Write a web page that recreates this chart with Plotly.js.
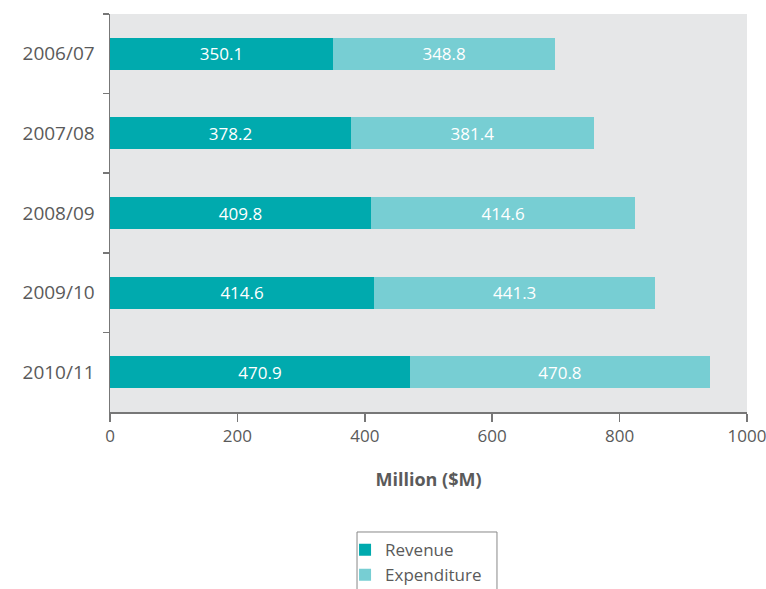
<!DOCTYPE html>
<html>
<head>
<meta charset="utf-8">
<script src="https://cdn.plot.ly/plotly-3.0.1.min.js"></script>
<style>html,body{margin:0;padding:0;background:#fff;}#chart{width:766px;height:589px;}</style>
</head>
<body>
<div id="chart"></div>
<script>
const years = ["2006/07", "2007/08", "2008/09", "2009/10", "2010/11"];
const revenue = [350.1, 378.2, 409.8, 414.6, 470.9];
const expenditure = [348.8, 381.4, 414.6, 441.3, 470.8];
const xTicks = [0, 200, 400, 600, 800, 1000];

const fontFam = "'Open Sans', 'Noto Sans', sans-serif";
const common = {
  type: "bar", orientation: "h", y: years, width: 0.4,
  textposition: "inside", insidetextanchor: "middle",
  textfont: {color: "#ffffff", size: 17, family: fontFam},
  hoverinfo: "x+name"
};
const data = [
  Object.assign({}, common, {name: "Revenue", x: revenue, text: revenue.map(v => v.toFixed(1)), marker: {color: "#00aaae"}}),
  Object.assign({}, common, {name: "Expenditure", x: expenditure, text: expenditure.map(v => v.toFixed(1)), marker: {color: "#77ced3"}})
];
const layout = {
  width: 766, height: 589,
  margin: {l: 110, r: 19, t: 14, b: 177, autoexpand: false},
  barmode: "stack",
  paper_bgcolor: "#ffffff",
  plot_bgcolor: "#e6e7e8",
  font: {family: fontFam, color: "#5a5a5a", size: 16},
  xaxis: {
    range: [0, 1000], tickvals: xTicks, ticktext: xTicks.map(String),
    showgrid: false, zeroline: false, showline: true, linecolor: "#777", linewidth: 1.5,
    ticks: "outside", ticklen: 8, tickcolor: "#777", tickwidth: 1.5,
    tickfont: {size: 17, color: "#5a5a5a"}, ticklabeloverflow: "allow",
    title: {text: "<b>Million ($M)</b>", font: {size: 18, color: "#5a5a5a"}, standoff: 27}
  },
  yaxis: {
    autorange: "reversed", tickson: "boundaries",
    showgrid: false, zeroline: false, showline: true, linecolor: "#777", linewidth: 1.5,
    ticks: "outside", ticklen: 6, tickcolor: "#777", tickwidth: 1.5,
    tickfont: {size: 19, color: "#5a5a5a"}, ticklabelstandoff: 10
  },
  showlegend: true,
  legend: {
    orientation: "v", x: 0.369, xanchor: "left", y: -0.302, yanchor: "top",
    borderwidth: 0, bgcolor: "rgba(0,0,0,0)",
    font: {size: 17, color: "#5a5a5a"}, traceorder: "normal",
    itemwidth: 30, tracegroupgap: 0
  },
  shapes: [{
    type: "rect", xref: "paper", yref: "paper",
    x0: 0.3878, x1: 0.6075, y0: -0.3015, y1: -0.6,
    line: {color: "#888", width: 1}, fillcolor: "rgba(0,0,0,0)", layer: "above"
  }]
};
Plotly.newPlot("chart", data, layout, {displayModeBar: false, staticPlot: true});
</script>
</body>
</html>
